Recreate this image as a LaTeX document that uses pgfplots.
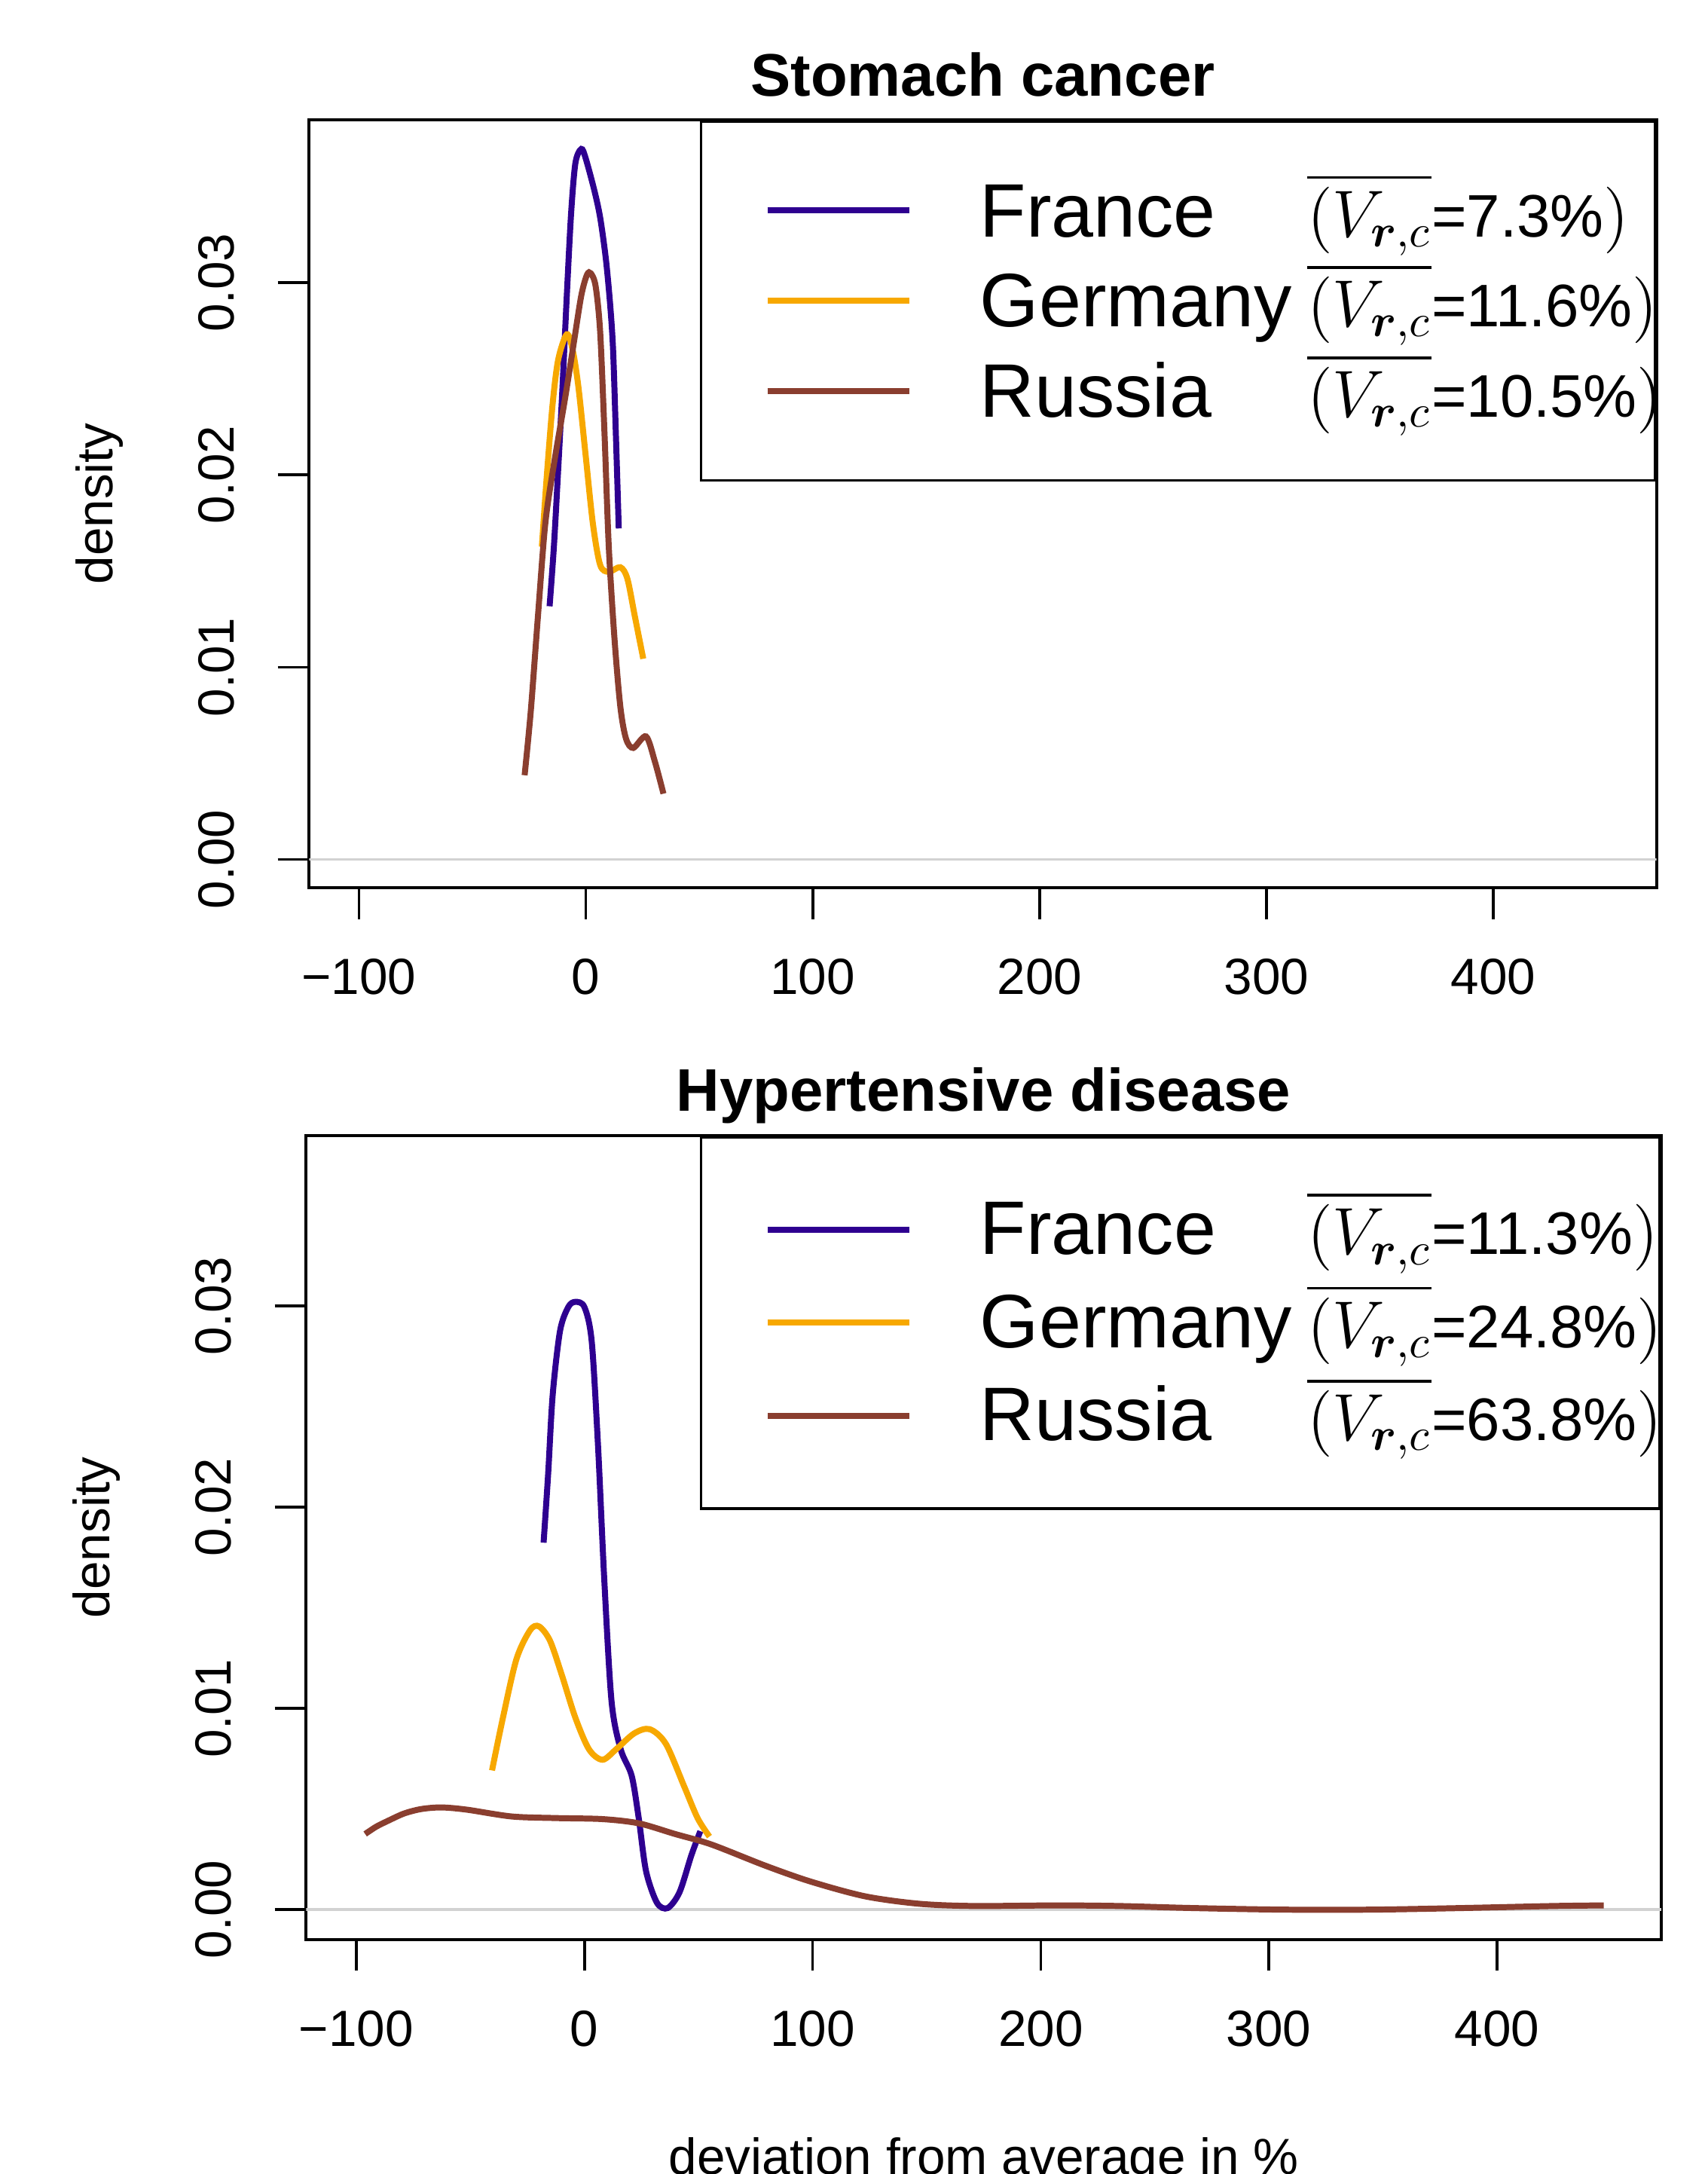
\documentclass[border=0pt]{standalone}
\usepackage{amsmath}
\usepackage[no-math]{fontspec}
\setmainfont{Liberation Sans}
\usepackage{pgfplots}
\pgfplotsset{compat=1.18}

\definecolor{frcol}{RGB}{46,0,144}
\definecolor{decol}{RGB}{247,168,0}
\definecolor{rucol}{RGB}{138,62,47}

% one legend row: name, then the overlined V annotation
\newcommand{\lentry}[4]{\makebox[#3][l]{\rule[-#4]{0pt}{19.2pt}\makebox[70.8pt][l]{\fontsize{16.4}{19}\selectfont #1}{\fontsize{14}{16}\selectfont$\overline{(V_{\boldsymbol{r},c}}$}{\fontsize{13}{16}\selectfont=#2\%}{\fontsize{14}{16}\selectfont$)$}}}

\pgfplotsset{
  dens/.style={
    scale only axis, anchor=south west,
    xmin=-122, xmax=472, ymin=-0.00148, ymax=0.03848,
    axis line style={line width=0.6pt},
    tick align=outside, xtick pos=lower, ytick pos=left,
    major tick length=6.8pt, tick style={black, line width=0.6pt},
    xtick={-100,0,100,200,300,400},
    xticklabels={−100,0,100,200,300,400},
    ytick={0,0.01,0.02,0.03},
    yticklabels={0.00,0.01,0.02,0.03},
    scaled y ticks=false,
    xticklabel style={font=\fontsize{11}{13}\selectfont, anchor=north, inner sep=0pt, yshift=-8.4pt},
    yticklabel style={font=\fontsize{11}{13}\selectfont, xshift=-9.1pt, rotate=90, anchor=south, inner sep=0pt},
    title style={at={(0.5,1)}, anchor=base, yshift=-0.8pt, font=\bfseries\fontsize{13}{15}\selectfont},
    ylabel={density},
    ylabel style={font=\fontsize{11}{13}\selectfont, anchor=center},
    legend style={at={(1,1)}, anchor=north east, draw=black, line width=0.6pt, fill=white,
      inner xsep=0pt, row sep=0pt, column sep=0pt,
      cells={anchor=center}, nodes={inner sep=0pt, text depth=}},
  },
  curve/.style={line width=1.3pt, smooth},
}

\begin{document}
\begin{tikzpicture}

% ---------- Stomach cancer ----------
\begin{axis}[dens,
  at={(66.9pt,278.28pt)}, width=291.6pt, height=166.2pt,
  title={Stomach cancer},
  ylabel style={at={(axis description cs:-0.1553,0.5)}},
  legend style={inner ysep=9.6pt},
  legend image code/.code={\path[draw=none, fill=none] (0pt,-9.6pt) rectangle (60.4pt,9.6pt); \draw[#1] (14.4pt,0pt) -- (45.1pt,0pt);},
]
\addplot[gray!35, line width=0.6pt, forget plot] coordinates {(-122,0) (472,0)};
\addplot[frcol, curve] coordinates {
  (-16.0,0.01317) (-14.1,0.01627) (-12.2,0.02031) (-10.3,0.02459) (-8.4,0.02935)
  (-6.5,0.03363) (-4.6,0.03624) (-2.0,0.03696) (-0.1,0.03648) (3.7,0.03482)
  (6.3,0.03339) (8.8,0.03125) (10.7,0.02887) (12.0,0.02649) (13.2,0.02221)
  (14.5,0.01722)
};
\addlegendentry{\lentry{France}{7.3}{146.1pt}{3.8pt}}
\addplot[decol, curve] coordinates {
  (-19.4,0.01627) (-17.3,0.01983) (-14.7,0.02364) (-12.2,0.026) (-8.4,0.02732)
  (-5.8,0.02649) (-3.3,0.02459) (-0.1,0.02102) (3.1,0.01746) (6.3,0.01532)
  (10.1,0.01496) (15.2,0.0152) (18.3,0.0146) (21.5,0.0127) (25.3,0.01044)
};
\addlegendentry{\lentry{Germany}{11.6}{146.1pt}{3.8pt}}
\addplot[rucol, curve] coordinates {
  (-27.0,0.00438) (-24.3,0.0077) (-21.1,0.0127) (-17.9,0.01746) (-14.1,0.02055)
  (-9.0,0.02411) (-5.2,0.02697) (-2.0,0.02935) (0.5,0.03042) (2.2,0.03049)
  (4.3,0.02982) (6.3,0.02744) (8.2,0.0222) (10.1,0.01627) (12.6,0.01151)
  (15.2,0.00794) (17.7,0.00628) (20.9,0.0058) (26.5,0.0064) (30.4,0.0051)
  (34.2,0.00342)
};
\addlegendentry{\lentry{Russia}{10.5}{146.1pt}{3.8pt}}
\end{axis}

% ---------- Hypertensive disease ----------
\begin{axis}[dens,
  at={(66.24pt,50.76pt)}, width=293.28pt, height=173.94pt,
  title={Hypertensive disease},
  ylabel style={at={(axis description cs:-0.1545,0.5)}},
  xlabel={deviation from average in \%},
  xlabel style={at={(axis description cs:0.5,0)}, anchor=base, yshift=-50.9pt, font=\fontsize{11}{13}\selectfont},
  legend style={inner ysep=10.05pt},
  legend image code/.code={\path[draw=none, fill=none] (0pt,-10.05pt) rectangle (60.4pt,10.05pt); \draw[#1] (14.4pt,0pt) -- (45.1pt,0pt);},
]
\addplot[gray!35, line width=0.6pt, forget plot] coordinates {(-122,0) (472,0)};
\addplot[frcol, curve] coordinates {
  (-17.9,0.01824) (-15.9,0.02166) (-13.9,0.0256) (-10.7,0.02876) (-7.1,0.02995)
  (-4.0,0.03021) (0,0.02995) (3.2,0.02824) (6.0,0.02297) (8.7,0.0164)
  (11.9,0.01034) (15.9,0.00797) (20.7,0.00666) (23.8,0.00455) (27.0,0.00192)
  (31.8,0.00034) (36.5,0.00008) (41.7,0.00087) (46.9,0.00271) (50.8,0.0039)
};
\addlegendentry{\lentry{France}{11.3}{147.1pt}{4.25pt}}
\addplot[decol, curve] coordinates {
  (-40.5,0.00692) (-35.7,0.00955) (-29.8,0.01245) (-23.8,0.01389) (-19.9,0.01408)
  (-15.1,0.01337) (-9.9,0.01166) (-4.0,0.00955) (2.0,0.00797) (7.9,0.00745)
  (13.9,0.00797) (21.8,0.00876) (28.6,0.00897) (35.7,0.00824) (43.7,0.00613)
  (49.6,0.00455) (54.8,0.00363)
};
\addlegendentry{\lentry{Germany}{24.8}{147.1pt}{4.25pt}}
\addplot[rucol, curve] coordinates {
  (-96.1,0.00376) (-91.3,0.00412) (-86.0,0.00442) (-79.0,0.00478) (-71.5,0.00500)
  (-62.7,0.00508) (-51.6,0.00497) (-31.8,0.00463) (-11.9,0.00455) (7.9,0.0045)
  (23.8,0.00429) (39.7,0.00376) (55.6,0.00324) (79.4,0.00218) (99.3,0.00139)
  (123.1,0.00066) (146.9,0.00029) (170.8,0.00018) (206.5,0.00021) (234.3,0.00018)
  (266.1,0.00008) (305.8,0.0) (345.5,0.0) (385.2,0.00008) (424.9,0.00018)
  (446.8,0.00021)
};
\addlegendentry{\lentry{Russia}{63.8}{147.1pt}{4.25pt}}
\end{axis}

\pgfresetboundingbox
\useasboundingbox (0,0) rectangle (369.6pt,470.4pt);
\end{tikzpicture}
\end{document}
